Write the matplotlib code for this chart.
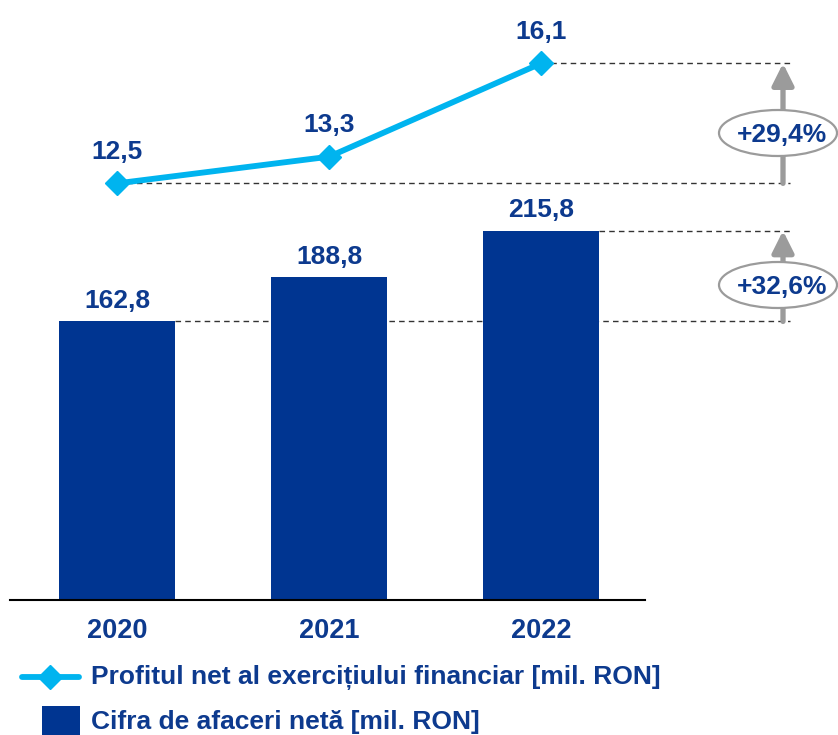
import matplotlib
import matplotlib.pyplot as plt
from matplotlib.patches import Ellipse, Rectangle
from matplotlib.lines import Line2D

matplotlib.rcParams['font.family'] = ['Liberation Sans', 'DejaVu Sans']

years = ['2020', '2021', '2022']
cifra_afaceri = [162.8, 188.8, 215.8]
profit_net = [12.5, 13.3, 16.1]
cifra_labels = ['162,8', '188,8', '215,8']
profit_labels = ['12,5', '13,3', '16,1']
growth_profit = '+29,4%'
growth_cifra = '+32,6%'
legend_labels = ['Profitul net al exercițiului financiar [mil. RON]',
                 'Cifra de afaceri netă [mil. RON]']

BAR = '#003591'
LINE = '#00B4EF'
TXT = '#0D3A8E'
GREY = '#9B9B9B'
W, H = 838, 735

fig = plt.figure(figsize=(W / 100, H / 100), dpi=100)
ax = fig.add_axes([0, 135 / H, 1, 599 / H])
ax2 = ax.twinx()


def fx(px):
    return px / W


def fy(py):
    return (H - py) / H


x = list(range(len(years)))
ax.bar(x, cifra_afaceri, width=0.55, color=BAR, zorder=2)
ax2.plot(x, profit_net, color=LINE, lw=4.2, marker='D', markersize=12, zorder=3)

ax.set_xlim(-117 / 212, 2 + (W - 541) / 212)
ax.set_ylim(0, 599 / 1.711)
ax2.set_ylim(0, 599 / 33.33)

for a in (ax, ax2):
    for s in a.spines.values():
        s.set_visible(False)
    a.set_yticks([])
ax.set_xticks(x)
ax.set_xticklabels(years, fontsize=19.5, fontweight='bold', color=TXT)
ax.tick_params(axis='x', length=0, pad=13)
ax.axhline(0, xmin=10 / W, xmax=645 / W, color='black', lw=1.5, zorder=3, clip_on=False)

# value labels
for i, v in enumerate(cifra_afaceri):
    ax.annotate(cifra_labels[i], (i, v), xytext=(0, 6), textcoords='offset points',
                ha='center', va='bottom', fontsize=19, fontweight='bold', color=TXT)
for i, v in enumerate(profit_net):
    ax2.annotate(profit_labels[i], (i, v), xytext=(0, 14), textcoords='offset points',
                 ha='center', va='bottom', fontsize=19, fontweight='bold', color=TXT)

# dashed reference lines
x_end = (790 - 117) / 212
dash = dict(ls=(0, (4, 3)), color='#333333', lw=1.0, zorder=1)
ax.plot([0.275, x_end], [cifra_afaceri[0]] * 2, **dash)
ax.plot([2.275, x_end], [cifra_afaceri[2]] * 2, **dash)
ax2.plot([0, x_end], [profit_net[0]] * 2, **dash)
ax2.plot([2, x_end], [profit_net[2]] * 2, **dash)

# growth arrows with ellipse labels
xa = (783 - 117) / 212
arrow = dict(arrowstyle='-|>,head_length=1.3,head_width=0.65', color=GREY, lw=3.8,
             shrinkA=0, shrinkB=0)
ax2.annotate('', xy=(xa, profit_net[2]), xytext=(xa, profit_net[0]), arrowprops=arrow)
ax.annotate('', xy=(xa, cifra_afaceri[2]), xytext=(xa, cifra_afaceri[0]), arrowprops=arrow)

xe = (778 - 117) / 212
for yc, txt in [((599 - 132) / 33.33, growth_profit), ((599 - 284) / 33.33, growth_cifra)]:
    ax2.add_patch(Ellipse((xe, yc), 118 / 212, 46 / 33.33, facecolor='white',
                          edgecolor=GREY, lw=1.6, zorder=5))
    ax2.text(xe + 4 / 212, yc - 2 / 33.33, txt, ha='center', va='center', fontsize=19,
             fontweight='bold', color=TXT, zorder=6)

# legend
fig.add_artist(Line2D([fx(22), fx(79)], [fy(677)] * 2, color=LINE, lw=4.2,
                      solid_capstyle='round', transform=fig.transFigure))
fig.add_artist(Line2D([fx(50)], [fy(677)], color=LINE, marker='D', markersize=12,
                      transform=fig.transFigure))
fig.add_artist(Rectangle((fx(42), fy(735)), fx(80) - fx(42), fy(706) - fy(735),
                         facecolor=BAR, transform=fig.transFigure))
fig.text(fx(91), fy(678), legend_labels[0], fontsize=19, fontweight='bold', color=TXT,
         va='center', ha='left')
fig.text(fx(91), fy(722), legend_labels[1], fontsize=19, fontweight='bold', color=TXT,
         va='center', ha='left')

fig.savefig('out.png', dpi=100)
